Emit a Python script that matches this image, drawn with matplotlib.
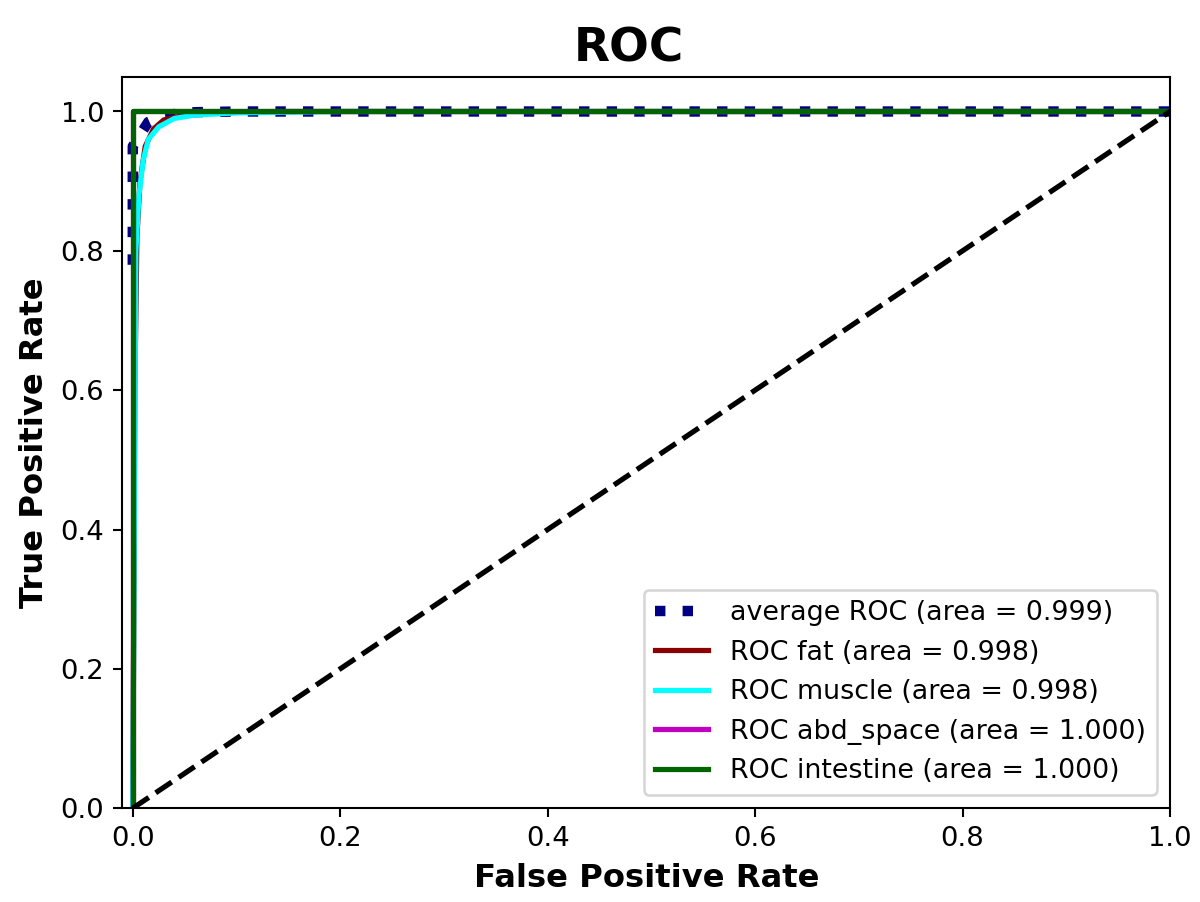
import matplotlib
matplotlib.use("Agg")
import matplotlib.pyplot as plt

# Data
avg_fpr = [0.0, 0.0, 0.0, 0.015, 0.03, 0.06, 0.1, 0.2, 0.4, 0.6, 0.8, 1.0]
avg_tpr = [0.78, 0.87, 0.95, 0.985, 0.995, 0.999, 1.0, 1.0, 1.0, 1.0, 1.0, 1.0]

fat_fpr = [0.0, 0.002, 0.004, 0.007, 0.012, 0.02, 0.03, 0.05, 0.08, 0.15, 1.0]
fat_tpr = [0.0, 0.6, 0.82, 0.9, 0.95, 0.975, 0.988, 0.995, 0.998, 1.0, 1.0]

mus_fpr = [0.0, 0.003, 0.006, 0.01, 0.015, 0.025, 0.04, 0.06, 0.1, 0.2, 1.0]
mus_tpr = [0.0, 0.8, 0.88, 0.93, 0.96, 0.978, 0.99, 0.995, 0.998, 1.0, 1.0]

abd_fpr = [0.0, 0.0, 1.0]
abd_tpr = [0.0, 1.0, 1.0]

int_fpr = [0.0, 0.0, 1.0]
int_tpr = [0.0, 1.0, 1.0]

labels = ["average ROC (area = 0.999)", "ROC fat (area = 0.998)",
          "ROC muscle (area = 0.998)", "ROC abd_space (area = 1.000)",
          "ROC intestine (area = 1.000)"]

fig = plt.figure(figsize=(6.4, 4.8107), dpi=187.5)
ax = fig.add_axes([0.102, 0.104, 0.873, 0.811])

ax.plot(avg_fpr, avg_tpr, color="navy", linestyle=":", linewidth=4, label=labels[0])
ax.plot(fat_fpr, fat_tpr, color="darkred", linewidth=2, label=labels[1])
ax.plot(mus_fpr, mus_tpr, color="aqua", linewidth=2, label=labels[2])
ax.plot(abd_fpr, abd_tpr, color="m", linewidth=2, label=labels[3])
ax.plot(int_fpr, int_tpr, color="darkgreen", linewidth=2, label=labels[4])
ax.plot([0, 1], [0, 1], "k--", linewidth=2)

ax.set_xlim(-0.01, 1.0)
ax.set_ylim(0.0, 1.05)
ax.tick_params(labelsize=10.5)
ax.set_xlabel("False Positive Rate", fontsize=12.4, fontweight="bold")
ax.set_ylabel("True Positive Rate", fontsize=12.4, fontweight="bold")
ax.set_title("ROC", fontsize=18, fontweight="bold", x=0.483)
ax.legend(loc="lower right", fontsize=10.3)

fig.savefig("out.png", dpi=187.5)
